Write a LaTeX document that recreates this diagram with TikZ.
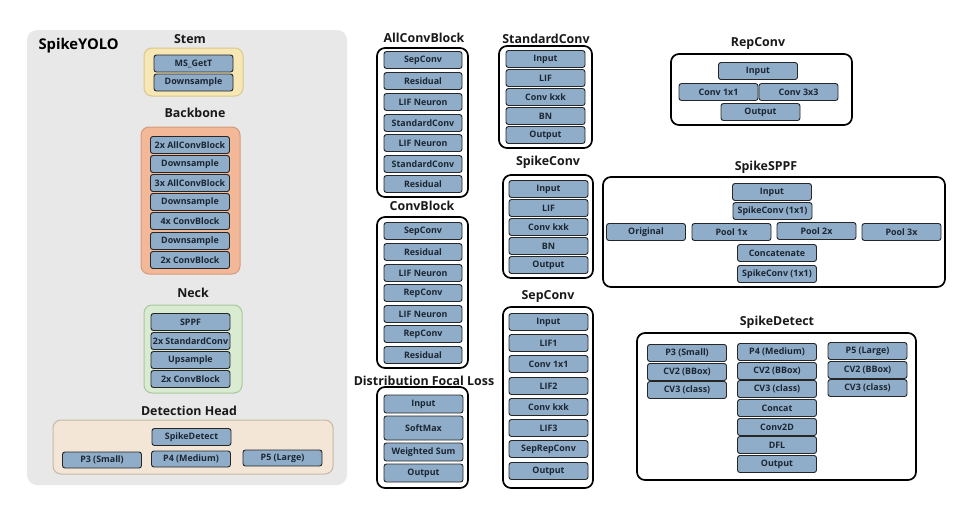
\documentclass[tikz,border=0pt]{standalone}
\usepackage{fontspec}
\setmainfont{Open Sans}
\definecolor{panelgray}{HTML}{E8E8E8}
\definecolor{stemfill}{HTML}{F6E7B4}
\definecolor{stemline}{HTML}{D8C88E}
\definecolor{backfill}{HTML}{F2B898}
\definecolor{backline}{HTML}{D49A7C}
\definecolor{neckfill}{HTML}{D9EBD0}
\definecolor{neckline}{HTML}{A9C79C}
\definecolor{headfill}{HTML}{F3E6D7}
\definecolor{headline}{HTML}{C7B8A6}
\definecolor{blkfill}{HTML}{8FADC8}
\definecolor{blktext}{HTML}{1C2633}

\tikzset{
  blk/.style={draw=black!85,fill=blkfill,rounded corners=2.5pt,line width=0.9pt,
    minimum width=79pt,minimum height=17pt,inner sep=0pt,text=blktext,
    font=\bfseries\fontsize{8.9}{10}\selectfont},
  grp/.style={draw=black,line width=1.7pt,rounded corners=8pt,fill=white},
  ttl/.style={font=\bfseries\fontsize{12.4}{14}\selectfont,text=black!90},
  soft/.style={line width=1pt,rounded corners=8pt}
}

\begin{document}
\begin{tikzpicture}[x=1pt,y=-1pt]
\useasboundingbox (0,0) rectangle (980,520);
\fill[white] (0,0) rectangle (980,520);

% SpikeYOLO panel
\fill[panelgray,rounded corners=10pt] (27,30) rectangle (347,485);
\node[font=\bfseries\fontsize{14.8}{17}\selectfont,anchor=west] (yolo) at (35,46) {SpikeYOLO};

% stem
\node[ttl] (tstem) at (190,39) {Stem};
\draw[soft,draw=stemline,fill=stemfill] (144,48) rectangle (243,96);
\node[blk] (msget) at (193.5,63.5) {MS\_GetT};
\node[blk] (stemds) at (193.5,82.5) {Downsample};

% backbone
\node[ttl] (tback) at (195,113) {Backbone};
\draw[soft,draw=backline,fill=backfill] (141,127) rectangle (240,274);
\node[blk] (bb1) at (190,145) {2x AllConvBlock};
\node[blk] (bb2) at (190,164) {Downsample};
\node[blk] (bb3) at (190,183) {3x AllConvBlock};
\node[blk] (bb4) at (190,202) {Downsample};
\node[blk] (bb5) at (190,221) {4x ConvBlock};
\node[blk] (bb6) at (190,241) {Downsample};
\node[blk] (bb7) at (190,260) {2x ConvBlock};

% neck
\node[ttl] (tneck) at (193,293) {Neck};
\draw[soft,draw=neckline,fill=neckfill] (144,305) rectangle (242,393);
\node[blk] (nk1) at (190.5,322) {SPPF};
\node[blk] (nk2) at (190.5,341) {2x StandardConv};
\node[blk] (nk3) at (190.5,360) {Upsample};
\node[blk] (nk4) at (190.5,379) {2x ConvBlock};

% detection head
\node[ttl] (thead) at (189,411) {Detection Head};
\draw[soft,draw=headline,fill=headfill] (53,420) rectangle (333,474);
\node[blk] (hdet) at (191.5,437) {SpikeDetect};
\node[blk,minimum height=16pt] (hp3) at (102,460) {P3 (Small)};
\node[blk,minimum height=16pt] (hp4) at (191,459) {P4 (Medium)};
\node[blk,minimum height=16pt] (hp5) at (282.5,458) {P5 (Large)};

% AllConvBlock
\node[ttl] (tall) at (424,38) {AllConvBlock};
\draw[grp] (377,48) rectangle (468,197);
\node[blk,minimum width=78pt] (ac1) at (423,60) {SepConv};
\node[blk,minimum width=78pt] (ac2) at (423,81) {Residual};
\node[blk,minimum width=78pt] (ac3) at (423,102) {LIF Neuron};
\node[blk,minimum width=78pt] (ac4) at (423,123) {StandardConv};
\node[blk,minimum width=78pt] (ac5) at (423,143) {LIF Neuron};
\node[blk,minimum width=78pt] (ac6) at (423,164) {StandardConv};
\node[blk,minimum width=78pt] (ac7) at (423,184) {Residual};

% ConvBlock
\node[ttl] (tconv) at (422,206) {ConvBlock};
\draw[grp] (377,217) rectangle (468,368);
\node[blk,minimum width=78pt] (cb1) at (423,231) {SepConv};
\node[blk,minimum width=78pt] (cb2) at (423,252) {Residual};
\node[blk,minimum width=78pt] (cb3) at (423,273) {LIF Neuron};
\node[blk,minimum width=78pt] (cb4) at (423,293) {RepConv};
\node[blk,minimum width=78pt] (cb5) at (423,314) {LIF Neuron};
\node[blk,minimum width=78pt] (cb6) at (423,334) {RepConv};
\node[blk,minimum width=78pt] (cb7) at (423,355) {Residual};

% distribution focal loss
\node[ttl] (tdfl) at (424,381) {Distribution Focal Loss};
\draw[grp] (377,387) rectangle (468,488);
\node[blk,minimum width=79pt,minimum height=18pt] (dl1) at (423.5,404) {Input};
\node[blk,minimum width=79pt,minimum height=24pt] (dl2) at (423.5,428) {SoftMax};
\node[blk,minimum width=79pt,minimum height=18pt] (dl3) at (423.5,452) {Weighted Sum};
\node[blk,minimum width=79pt,minimum height=18pt] (dl4) at (423.5,473) {Output};

% StandardConv
\node[ttl] (tstd) at (546,39) {StandardConv};
\draw[grp] (499,46) rectangle (592,148);
\node[blk] (sc1) at (545.5,59) {Input};
\node[blk] (sc2) at (545.5,78) {LIF};
\node[blk] (sc3) at (545.5,97) {Conv kxk};
\node[blk] (sc4) at (545.5,116) {BN};
\node[blk] (sc5) at (545.5,135) {Output};

% SpikeConv
\node[ttl] (tspk) at (548,162) {SpikeConv};
\draw[grp] (503,175) rectangle (593,278);
\node[blk] (kc1) at (548.5,189) {Input};
\node[blk] (kc2) at (548.5,208) {LIF};
\node[blk] (kc3) at (548.5,227) {Conv kxk};
\node[blk] (kc4) at (548.5,246) {BN};
\node[blk] (kc5) at (548.5,265) {Output};

% SepConv
\node[ttl] (tsep) at (548,296) {SepConv};
\draw[grp] (503,307) rectangle (593,488);
\node[blk] (sp1) at (548.5,322) {Input};
\node[blk] (sp2) at (548.5,343) {LIF1};
\node[blk] (sp3) at (548.5,364) {Conv 1x1};
\node[blk] (sp4) at (548.5,386) {LIF2};
\node[blk] (sp5) at (548.5,407) {Conv kxk};
\node[blk] (sp6) at (548.5,428) {LIF3};
\node[blk] (sp7) at (548.5,449) {SepRepConv};
\node[blk] (sp8) at (548.5,471) {Output};

% RepConv
\node[ttl] (trep) at (758,43) {RepConv};
\draw[grp] (671,54) rectangle (852,125);
\node[blk] (rp1) at (758,71) {Input};
\node[blk] (rp2) at (718.5,92) {Conv 1x1};
\node[blk] (rp3) at (798.5,92) {Conv 3x3};
\node[blk] (rp4) at (760.5,112) {Output};

% SpikeSPPF
\node[ttl] (tsppf) at (766,167) {SpikeSPPF};
\draw[grp] (603,177) rectangle (945,287);
\node[blk] (sf1) at (772,192) {Input};
\node[blk] (sf2) at (772.5,211) {SpikeConv (1x1)};
\node[blk] (sf3) at (646,232) {Original};
\node[blk] (sf4) at (731.5,232) {Pool 1x};
\node[blk] (sf5) at (816.5,231) {Pool 2x};
\node[blk] (sf6) at (901.5,232) {Pool 3x};
\node[blk] (sf7) at (777,253) {Concatenate};
\node[blk] (sf8) at (777,274) {SpikeConv (1x1)};

% SpikeDetect
\node[ttl] (tdet) at (777,322) {SpikeDetect};
\draw[grp] (637,333) rectangle (916,480);
\node[blk] (dt1) at (687,353) {P3 (Small)};
\node[blk] (dt2) at (687,372) {CV2 (BBox)};
\node[blk] (dt3) at (687,390) {CV3 (class)};
\node[blk] (dt4) at (777,352) {P4 (Medium)};
\node[blk] (dt5) at (777,371) {CV2 (BBox)};
\node[blk] (dt6) at (777,389) {CV3 (class)};
\node[blk] (dt7) at (777,408) {Concat};
\node[blk] (dt8) at (777,427) {Conv2D};
\node[blk] (dt9) at (777,445) {DFL};
\node[blk] (dt10) at (777,464) {Output};
\node[blk] (dt11) at (867.5,351) {P5 (Large)};
\node[blk] (dt12) at (867.5,370) {CV2 (BBox)};
\node[blk] (dt13) at (867.5,388) {CV3 (class)};
\end{tikzpicture}
\end{document}
